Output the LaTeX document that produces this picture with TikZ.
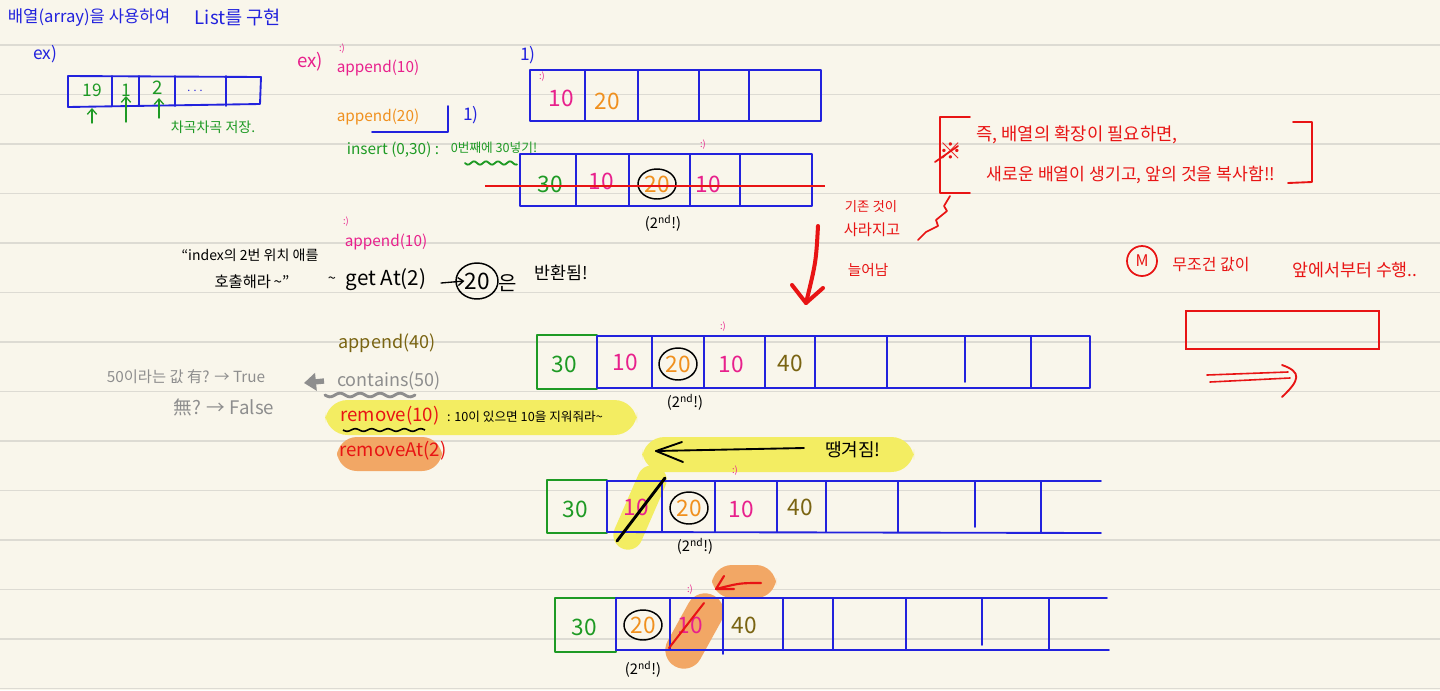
\documentclass[tikz,border=0pt]{standalone}
\usepackage{fontspec}
\setmainfont{Noto Sans CJK KR}
\usetikzlibrary{arrows.meta}
\definecolor{paper}{HTML}{F9F6EB}
\definecolor{rulec}{HTML}{DDDBD3}
\definecolor{pblue}{HTML}{2222DD}
\definecolor{ppink}{HTML}{E8208C}
\definecolor{porange}{HTML}{F0901E}
\definecolor{pgreen}{HTML}{1E9A24}
\definecolor{polive}{HTML}{7A6412}
\definecolor{pred}{HTML}{E81414}
\definecolor{pgray}{HTML}{8E8E8E}
\definecolor{hlyellow}{HTML}{F3ED62}
\definecolor{hlorange}{HTML}{F2A765}
\newcommand\hwsz[1]{\fontsize{#1}{#1}\selectfont}
\tikzset{
 txt/.style={inner sep=0pt, outer sep=0pt, anchor=center},
 pen/.style={line width=1.4pt, line cap=round, line join=round},
 thinpen/.style={line width=1pt, line cap=round, line join=round},
 smile/.style={txt, text=ppink, font=\hwsz{7}},
 val/.style={txt, font=\hwsz{17}},
 ndlabel/.style={txt, font=\hwsz{11}},
 ring/.style={draw=black, line width=1.1pt},
}
\begin{document}
\begin{tikzpicture}[x=0.75pt,y=-0.75pt]
\useasboundingbox (0,0) rectangle (1440,690);
\fill[paper] (0,0) rectangle (1440,690);
\foreach \k in {0,...,13}{\draw[rulec,line width=1pt] (0,45+49.5*\k) -- (1440,45+49.5*\k);}

% ---------- highlights ----------
\fill[hlyellow, rounded corners=17] (325,400) rectangle (637,435);
\fill[hlorange, rounded corners=15] (337,437) rectangle (442,471);
\fill[hlyellow, rounded corners=17] (642,437) rectangle (914,472);
\draw[hlyellow, line width=22pt, line cap=round] (652,480) -- (628,535);
\fill[hlorange, rounded corners=15] (712,565) rectangle (776,598);
\draw[hlorange, line width=28pt, line cap=round] (705,612) -- (684,650);

% ---------- title ----------
\node[txt, text=pblue, font=\hwsz{12.5}] (title1) at (89,18) {배열(array)을 사용하여};
\node[txt, text=pblue, font=\hwsz{14}] (title2) at (238,18) {List를 구현};
\node[txt, text=pblue, font=\hwsz{13}] (ex1) at (45,54) {ex)};

% ---------- small array ----------
\draw[pblue,pen] (68,76) -- (261,77) -- (260,104) -- (68,107) -- cycle;
\foreach \xx in {112,139,175,226}{\draw[pblue,pen] (\xx,76) -- (\xx,106);}
\node[txt, text=pgreen, font=\hwsz{13}] (s19) at (92,90) {19};
\node[txt, text=pgreen, font=\hwsz{13}] (s1) at (126,90) {1};
\node[txt, text=pgreen, font=\hwsz{14}] (s2) at (158,88) {2};
\node[txt, text=pblue, font=\hwsz{8}] (sdots) at (195,91) {. . .};
\coordinate (a1s) at (92,123); \coordinate (a1e) at (92,108);
\coordinate (a2s) at (126,122); \coordinate (a2e) at (126,96);
\coordinate (a3s) at (159,118); \coordinate (a3e) at (159,98);
\foreach \p in {1,2,3}{\draw[pgreen,thinpen,-{Straight Barb[length=4pt,width=7pt]}] (a\p s) -- (a\p e);}
\node[txt, text=pgreen, font=\hwsz{10.5}] (stack) at (213,127) {차곡차곡 저장.};

% ---------- append(10), append(20), insert ----------
\node[txt, text=ppink, font=\hwsz{14}] (ex2) at (310,62) {ex)};
\node[smile] (sm1) at (342,49) {:)};
\node[txt, text=ppink, font=\hwsz{11.5}] (ap10) at (378,68) {append(10)};
\node[txt, text=porange, font=\hwsz{11.5}] (ap20) at (378,117) {append(20)};
\draw[pblue,pen] (372,132) -- (448,132) -- (448,106);
\node[txt, text=pblue, font=\hwsz{13}] (one1) at (471,115) {1)};
\node[txt, text=pgreen, font=\hwsz{11.5}] (ins) at (393,150) {insert (0,30) :};
\node[txt, text=pgreen, font=\hwsz{9.5}] (insc) at (494,148) {0번째에 30넣기!};
\draw[pgreen,pen] plot[domain=0:52,samples=60,smooth] (\x+465,{163+1.6*sin(\x*30)});

% ---------- array A1 ----------
\node[txt, text=pblue, font=\hwsz{13}] (one2) at (528,55) {1)};
\draw[pblue,pen] (530,70) rectangle (821,121);
\foreach \xx in {585,638,699,749}{\draw[pblue,pen] (\xx,70) -- (\xx,121);}
\node[smile] (sm2) at (542,77) {:)};
\node[val, text=ppink] (a1v1) at (561,98) {10};
\node[val, text=porange] (a1v2) at (607,101) {20};

% ---------- array A2 ----------
\draw[pblue,pen] (520,154) rectangle (812,206);
\foreach \xx in {576,629,690,740}{\draw[pblue,pen] (\xx,154) -- (\xx,206);}
\node[smile] (sm3) at (703,145) {:)};
\node[val, text=pgreen] (a2v1) at (550,184) {30};
\node[val, text=ppink] (a2v2) at (601,181) {10};
\node[val, text=porange] (a2v3) at (657,184) {20};
\draw[ring] (a2v3) ellipse (19 and 15);
\node[val, text=ppink] (a2v4) at (708,184) {10};
\draw[pred,line width=1.3pt] (485,186) -- (825,186);
\node[ndlabel] (nd1) at (663,223) {(2\textsuperscript{nd}!)};

% ---------- getAt ----------
\node[smile] (sm4) at (346,222) {:)};
\node[txt, text=ppink, font=\hwsz{11.5}] (ap10b) at (386,242) {append(10)};
\node[txt, font=\hwsz{10.5}] (q1) at (250,255) {“index의 2번 위치 애를};
\node[txt, font=\hwsz{11.5}] (q2) at (252,282) {호출해라\,\textasciitilde”};
\node[txt, font=\hwsz{11}] (tl) at (332,280) {\textasciitilde};
\node[txt, font=\hwsz{15.5}] (getat) at (386,280) {get At(2)};
\node[txt, font=\hwsz{17}] (r20) at (477,281) {20};
\draw[ring] (r20) ellipse (21 and 18);
\coordinate (gst) at (441,283);
\draw[thinpen,-{Straight Barb[length=4pt,width=6pt]}] (gst) -- (r20.west);
\node[txt, font=\hwsz{15}] (eun) at (508,283) {은};
\node[txt, font=\hwsz{13}] (ret) at (561,273) {반환됨!};

% ---------- append(40), contains ----------
\node[txt, text=polive, font=\hwsz{13.5}] (ap40) at (387,343) {append(40)};
\node[txt, text=pgray, font=\hwsz{13.5}] (cont) at (389,381) {contains(50)};
\draw[pgray,line width=2.2pt,line cap=round] plot[domain=0:90,samples=80,smooth] (\x+325,{395+1.8*sin(\x*18)});
\coordinate (gas) at (324,381);
\coordinate (garr) at (304,383);
\draw[pgray,line width=4pt,-{Triangle[length=9pt,width=13pt]}] (gas) -- (garr);
\node[txt, text=pgray, font=\hwsz{11.5}] (tru) at (186,377) {50이라는 값 有? → True};
\node[txt, text=pgray, font=\hwsz{14}] (fal) at (224,407) {無? → False};

% ---------- remove ----------
\node[txt, text=pred, font=\hwsz{14}] (rem) at (390,416) {remove(10)};
\node[txt, font=\hwsz{9.5}] (remc) at (525,417) {: 10이 있으면 10을 지워줘라\textasciitilde};
\draw[black,line width=1.2pt] plot[domain=0:82,samples=70,smooth] (\x+343,{430+1.3*sin(\x*22)});
\node[txt, text=pred, font=\hwsz{14}] (remat) at (393,451) {removeAt(2)};

% ---------- big red arrow ----------
\coordinate (ra1) at (818,226); \coordinate (ra2) at (806,303);
\draw[pred,line width=3pt,line cap=round] (ra1) .. controls (816,262) .. (ra2);
\draw[pred,line width=3pt,line cap=round,line join=round] (792,285) -- (ra2) -- (823,288);

% ---------- array 3 ----------
\draw[pgreen,pen] (537,335) rectangle (597,389);
\draw[pblue,pen] (597,336) rectangle (1090,388);
\foreach \xx in {652,704,765,815,887,1031}{\draw[pblue,pen] (\xx,336) -- (\xx,388);}
\draw[pblue,pen] (965,336) -- (965,382);
\node[smile] (sm5) at (723,327) {:)};
\node[val, text=pgreen] (b1) at (564,364) {30};
\node[val, text=ppink] (b2) at (625,362) {10};
\node[val, text=porange] (b3) at (678,364) {20};
\draw[ring] (b3) ellipse (19 and 16);
\node[val, text=ppink] (b4) at (731,364) {10};
\node[val, text=polive] (b5) at (790,363) {40};
\node[ndlabel] (nd2) at (685,402) {(2\textsuperscript{nd}!)};

% ---------- pull arrow ----------
\coordinate (pl1) at (804,448); \coordinate (pl2) at (656,451);
\draw[black,line width=1.4pt,line cap=round] (pl1) -- (pl2);
\draw[black,line width=1.4pt,line cap=round,line join=round] (682,442) -- (pl2) -- (683,462);
\node[txt, font=\hwsz{13.5}] (pull) at (853,450) {땡겨짐!};

% ---------- array 4 ----------
\draw[pgreen,pen] (547,480) rectangle (607,533);
\draw[pblue,pen] (607,481) -- (1101,481);
\draw[pblue,pen] (607,532) -- (1101,533);
\foreach \xx in {607,662,715,777,826,898,1041}{\draw[pblue,pen] (\xx,481) -- (\xx,532);}
\draw[pblue,pen] (975,481) -- (975,527);
\node[smile] (sm6) at (735,471) {:)};
\node[val, text=pgreen] (c1) at (575,509) {30};
\node[val, text=ppink] (c2) at (636,507) {10};
\draw[black,line width=2.2pt,line cap=round] (665,478) -- (617,541);
\node[val, text=porange] (c3) at (689,508) {20};
\draw[ring] (c3) ellipse (19 and 16);
\node[val, text=ppink] (c4) at (741,509) {10};
\node[val, text=polive] (c5) at (800,507) {40};
\node[ndlabel] (nd3) at (695,546) {(2\textsuperscript{nd}!)};

% ---------- array 5 ----------
\draw[pgreen,pen] (555,598) rectangle (616,652);
\draw[pblue,pen] (616,598) -- (1107,598);
\draw[pblue,pen] (616,650) -- (1109,650);
\foreach \xx in {616,670,783,833,906,1049}{\draw[pblue,pen] (\xx,598) -- (\xx,650);}
\draw[pblue,pen] (723,598) -- (723,654);
\draw[pblue,pen] (982,598) -- (982,645);
\node[smile] (sm7) at (690,590) {:)};
\coordinate (lr1) at (761,583); \coordinate (lr2) at (716,589);
\draw[pred,line width=1.6pt,line cap=round] (lr1) .. controls (740,583) .. (lr2);
\draw[pred,line width=1.6pt,line cap=round,line join=round] (724,576) -- (lr2) -- (734,589);
\node[val, text=pgreen] (d1) at (584,627) {30};
\node[val, text=porange] (d2) at (643,625) {20};
\draw[ring] (d2) ellipse (19 and 15);
\node[val, text=ppink] (d3) at (690,625) {10};
\draw[pred,line width=1.5pt,line cap=round] (704,603) -- (669,648);
\node[val, text=polive] (d4) at (744,625) {40};
\node[ndlabel] (nd4) at (643,669) {(2\textsuperscript{nd}!)};

% ---------- red bracket note ----------
\draw[pred,pen] (970,117) -- (940,117) -- (940,193) -- (970,193);
\draw[pred,pen] (1293,122) -- (1312,122) -- (1312,182) -- (1288,183);
\node[txt, text=pred, font=\hwsz{17}] (star) at (951,151) {※};
\draw[pred,line width=1.3pt,line cap=round] (935,162) -- (958,146);
\node[txt, text=pred, font=\hwsz{13.3}] (n1) at (1077,135) {즉, 배열의 확장이 필요하면,};
\node[txt, text=pred, font=\hwsz{12.9}] (n2) at (1131,175) {새로운 배열이 생기고, 앞의 것을 복사함!!};
\draw[pred,line width=1.3pt,line cap=round,line join=round] (950,196) -- (944,206) -- (947,211) -- (936,220) -- (938,226) -- (926,232) -- (918,240);
\node[txt, text=pred, font=\hwsz{10}] (g1) at (871,207) {기존 것이};
\node[txt, text=pred, font=\hwsz{11.5}] (g2) at (872,230) {사라지고};
\node[txt, text=pred, font=\hwsz{11}] (g3) at (868,270) {늘어남};

% ---------- M note ----------
\draw[pred,line width=1.3pt] (1142,261) circle (15);
\node[txt, text=pred, font=\hwsz{12}] (mm) at (1142,261) {M};
\node[txt, text=pred, font=\hwsz{12}] (m1) at (1211,265) {무조건 값이};
\node[txt, text=pred, font=\hwsz{13}] (m2) at (1355,270) {앞에서부터 수행..};
\draw[pred,line width=1.2pt] (1186,311) rectangle (1379,349);
\draw[pred,line width=1.2pt,line cap=round] (1207,375) -- (1288,372);
\draw[pred,line width=1.2pt,line cap=round] (1210,382) -- (1290,378);
\draw[pred,line width=1.4pt,line cap=round] (1282,365) .. controls (1302,372) and (1300,380) .. (1282,397);
\end{tikzpicture}
\end{document}
